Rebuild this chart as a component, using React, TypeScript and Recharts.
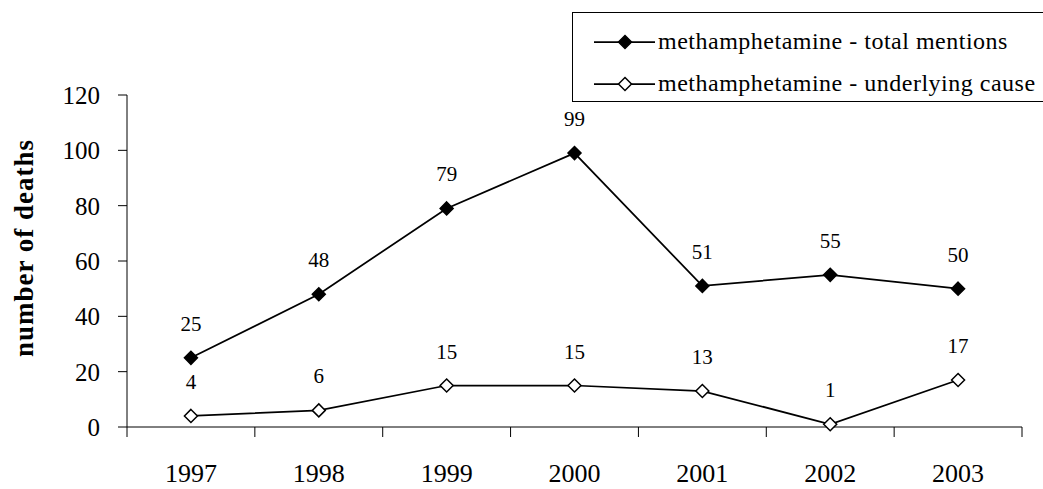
import { LineChart, Line, XAxis, YAxis, LabelList } from 'recharts';

const years = ['1997', '1998', '1999', '2000', '2001', '2002', '2003'];
const totalMentions = [25, 48, 79, 99, 51, 55, 50];
const underlyingCause = [4, 6, 15, 15, 13, 1, 17];
const yTicks = [0, 20, 40, 60, 80, 100, 120];
const seriesNames = [
  'methamphetamine - total mentions',
  'methamphetamine - underlying cause',
];

const data = years.map((year, i) => ({
  year,
  total: totalMentions[i],
  underlying: underlyingCause[i],
}));

const WIDTH = 1043;
const HEIGHT = 489;
const MARGIN = { top: 95, right: 21, left: 0, bottom: 0 };
const Y_AXIS_WIDTH = 127;
const X_AXIS_HEIGHT = 62;
const BAND = (WIDTH - MARGIN.right - Y_AXIS_WIDTH) / years.length;
const FONT = '"Liberation Serif", "Times New Roman", serif';

function Diamond({ cx, cy, filled }: { cx?: number; cy?: number; filled: boolean }) {
  if (cx == null || cy == null) return null;
  const r = 6.5;
  return (
    <polygon
      points={`${cx},${cy - r} ${cx + r},${cy} ${cx},${cy + r} ${cx - r},${cy}`}
      fill={filled ? '#000' : '#fff'}
      stroke="#000"
      strokeWidth={1.5}
    />
  );
}

// year label plus the tick marks between categories
function YearTick({ x, y, payload, index }: any) {
  const half = BAND / 2;
  return (
    <g>
      <line x1={x - half} y1={y} x2={x - half} y2={y + 10} stroke="#000" />
      {index === years.length - 1 && (
        <line x1={x + half} y1={y} x2={x + half} y2={y + 10} stroke="#000" />
      )}
      <text x={x} y={y + 55} textAnchor="middle" fontSize={26} fontFamily={FONT} fill="#000">
        {payload.value}
      </text>
    </g>
  );
}

function YLabel({ viewBox }: any) {
  const cy = viewBox.y + viewBox.height / 2 - 13;
  return (
    <text
      transform={`translate(33, ${cy}) rotate(-90)`}
      textAnchor="middle"
      fontSize={27}
      fontWeight="bold"
      letterSpacing={1}
      fontFamily={FONT}
      fill="#000"
    >
      number of deaths
    </text>
  );
}

function LegendBox() {
  return (
    <div
      style={{
        position: 'absolute',
        left: 572,
        top: 12,
        width: 490,
        height: 88,
        border: '1px solid #000',
        background: '#fff',
      }}
    >
      <svg width={490} height={88}>
        {seriesNames.map((name, i) => {
          const cy = 29 + i * 42;
          return (
            <g key={name}>
              <line x1={21} y1={cy} x2={82} y2={cy} stroke="#000" strokeWidth={1.75} />
              <Diamond cx={52} cy={cy} filled={i === 0} />
              <text
                x={85}
                y={cy + 7}
                fontSize={24}
                letterSpacing={0.5}
                fontFamily={FONT}
                fill="#000"
              >
                {name}
              </text>
            </g>
          );
        })}
      </svg>
    </div>
  );
}

export default function App() {
  const labelStyle = { fontSize: 21, fontFamily: FONT, fill: '#000' };
  return (
    <div
      style={{
        position: 'absolute',
        left: 0,
        top: 0,
        width: WIDTH,
        height: HEIGHT,
        overflow: 'hidden',
        background: '#fff',
      }}
    >
      <LineChart width={WIDTH} height={HEIGHT} data={data} margin={MARGIN}>
        <XAxis
          dataKey="year"
          scale="band"
          height={X_AXIS_HEIGHT}
          tickLine={false}
          tickSize={0}
          tickMargin={0}
          axisLine={{ stroke: '#000' }}
          tick={<YearTick />}
          interval={0}
        />
        <YAxis
          width={Y_AXIS_WIDTH}
          domain={[0, 120]}
          ticks={yTicks}
          interval={0}
          axisLine={{ stroke: '#000' }}
          tickLine={{ stroke: '#000' }}
          tickSize={9}
          tickMargin={18}
          tick={{ fontSize: 25, fontFamily: FONT, fill: '#000' }}
          label={<YLabel />}
        />
        <Line
          dataKey="total"
          stroke="#000"
          strokeWidth={1.75}
          isAnimationActive={false}
          dot={(p: any) => <Diamond key={`t-${p.index}`} cx={p.cx} cy={p.cy} filled />}
        >
          <LabelList dataKey="total" position="top" offset={27} style={labelStyle} />
        </Line>
        <Line
          dataKey="underlying"
          stroke="#000"
          strokeWidth={1.75}
          isAnimationActive={false}
          dot={(p: any) => <Diamond key={`u-${p.index}`} cx={p.cx} cy={p.cy} filled={false} />}
        >
          <LabelList dataKey="underlying" position="top" offset={27} style={labelStyle} />
        </Line>
      </LineChart>
      <LegendBox />
    </div>
  );
}
